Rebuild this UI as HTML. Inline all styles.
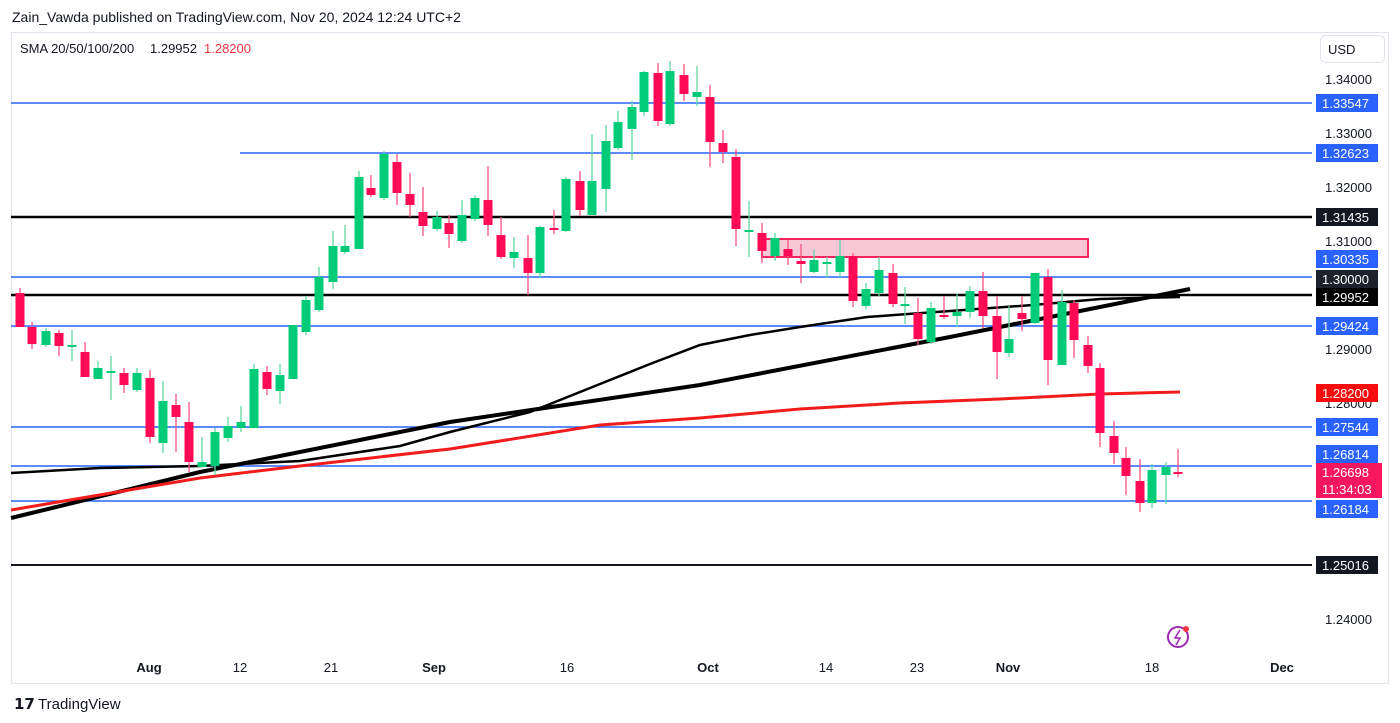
<!DOCTYPE html>
<html><head><meta charset="utf-8"><style>
body{margin:0;width:1400px;height:723px;background:#fff;font-family:"Liberation Sans",sans-serif;overflow:hidden;position:relative}
.t{position:absolute;font-size:13px;color:#131722}
</style></head><body>
<div class="t" style="left:12px;top:9px;font-size:14px">Zain_Vawda published on TradingView.com, Nov 20, 2024 12:24 UTC+2</div>
<svg width="1400" height="723" style="position:absolute;left:0;top:0" id="s" font-family="Liberation Sans, sans-serif">
<rect x="11.5" y="32.5" width="1377" height="651" fill="none" stroke="#e0e3eb"/>
<text x="20" y="53" font-size="13" fill="#131722">SMA 20/50/100/200</text>
<text x="150" y="53" font-size="13" fill="#131722">1.29952</text>
<text x="204" y="53" font-size="13" fill="#f23645">1.28200</text>
<rect x="1320.5" y="35.5" width="64" height="27" rx="5" fill="#fff" stroke="#e0e3eb"/>
<text x="1328" y="54" font-size="13" fill="#131722">USD</text>
<g stroke-width="1.5">
<line x1="11" y1="103" x2="1312" y2="103" stroke="#2962ff"/>
<line x1="240" y1="153" x2="1312" y2="153" stroke="#2962ff"/>
<line x1="11" y1="277" x2="1312" y2="277" stroke="#2962ff"/>
<line x1="11" y1="326" x2="1312" y2="326" stroke="#2962ff"/>
<line x1="11" y1="427" x2="1312" y2="427" stroke="#2962ff"/>
<line x1="11" y1="466" x2="1312" y2="466" stroke="#2962ff"/>
<line x1="11" y1="501" x2="1312" y2="501" stroke="#2962ff"/>
</g>
<line x1="11" y1="217" x2="1312" y2="217" stroke="#000" stroke-width="2.5"/>
<line x1="11" y1="295" x2="1312" y2="295" stroke="#000" stroke-width="2.5"/>
<line x1="11" y1="565" x2="1312" y2="565" stroke="#131722" stroke-width="2"/>
<rect x="762" y="239" width="326" height="18" fill="#f8c7d6" stroke="#f7245f" stroke-width="2"/>
<polyline fill="none" stroke="#000" stroke-width="2.5" points="11,473 100,468 200,466 300,461 400,446 450,432 530,412 600,384 650,364 700,345 750,335 800,327 867,317 950,311 1033,305 1100,299 1180,297"/>
<polyline fill="none" stroke="#000" stroke-width="4" points="11,518 200,472 450,422 700,385 950,337 1190,289"/>
<polyline fill="none" stroke="#f21c1c" stroke-width="3" points="11,510 200,478 300,466 450,449 600,425 700,418 800,409 900,403 1000,399 1100,394 1180,392"/>
<g id="c"></g>
<g font-size="13" fill="#131722">
<text x="1325" y="84">1.34000</text><text x="1325" y="138">1.33000</text><text x="1325" y="192">1.32000</text>
<text x="1325" y="246">1.31000</text><text x="1325" y="354">1.29000</text><text x="1325" y="408">1.28000</text>
<text x="1325" y="624">1.24000</text>
</g>
<g font-size="13" fill="#fff">
<rect x="1316" y="94" width="62" height="18" fill="#2962ff"/><text x="1322" y="108">1.33547</text>
<rect x="1316" y="144" width="62" height="18" fill="#2962ff"/><text x="1322" y="158">1.32623</text>
<rect x="1316" y="208" width="62" height="18" fill="#131722"/><text x="1322" y="222">1.31435</text>
<rect x="1316" y="250" width="62" height="18" fill="#2962ff"/><text x="1322" y="264">1.30335</text>
<rect x="1316" y="270" width="62" height="18" fill="#1e222d"/><text x="1322" y="284">1.30000</text>
<rect x="1316" y="288" width="62" height="18" fill="#000"/><text x="1322" y="302">1.29952</text>
<rect x="1316" y="317" width="62" height="18" fill="#2962ff"/><text x="1322" y="331">1.29424</text>
<rect x="1316" y="384" width="62" height="18" fill="#f70d0d"/><text x="1322" y="398">1.28200</text>
<rect x="1316" y="418" width="62" height="18" fill="#2962ff"/><text x="1322" y="432">1.27544</text>
<rect x="1316" y="445" width="62" height="18" fill="#2962ff"/><text x="1322" y="459">1.26814</text>
<rect x="1316" y="463" width="66" height="35" fill="#f7175f"/><text x="1322" y="477">1.26698</text><text x="1322" y="494">11:34:03</text>
<rect x="1316" y="500" width="62" height="18" fill="#2962ff"/><text x="1322" y="514">1.26184</text>
<rect x="1316" y="556" width="62" height="18" fill="#131722"/><text x="1322" y="570">1.25016</text>
</g>
<g font-size="13" fill="#131722" text-anchor="middle">
<text x="149" y="672" font-weight="bold">Aug</text><text x="240" y="672">12</text><text x="331" y="672">21</text>
<text x="434" y="672" font-weight="bold">Sep</text><text x="567" y="672">16</text><text x="708" y="672" font-weight="bold">Oct</text>
<text x="826" y="672">14</text><text x="917" y="672">23</text><text x="1008" y="672" font-weight="bold">Nov</text>
<text x="1152" y="672">18</text><text x="1282" y="672" font-weight="bold">Dec</text>
</g>
<circle cx="1178" cy="637" r="10" fill="none" stroke="#9c27b0" stroke-width="2"/>
<path d="M1180 630 l-5 8 h5 l-4 7" fill="none" stroke="#9c27b0" stroke-width="1.5"/>
<circle cx="1186" cy="629" r="3" fill="#f23645"/>
<text x="14" y="709" font-size="15" font-weight="bold" fill="#131722">𝟭𝟳</text>
<text x="38" y="709" font-size="15" fill="#131722">TradingView</text>
</svg>
<script>
var d=[[20,293,327,288,327],[32,327,344,322,349],[46,345,331,328,347],[59,333,346,330,356],[72,346,345,330,361],[85,352,377,342,377],[98,379,368,361,379],[111,372,371,356,400],[124,373,385,368,393],[137,390,373,368,392],[150,378,437,370,443],[163,443,401,381,453],[176,405,417,394,452],[189,422,462,402,472],[202,467,462,437,467],[215,466,432,428,475],[228,438,426,417,442],[241,428,422,406,432],[254,428,369,364,428],[267,372,389,366,395],[280,391,375,364,404],[293,379,325,325,379],[306,332,300,296,335],[319,310,277,267,312],[333,282,246,231,289],[345,252,246,225,254],[359,249,177,171,249],[371,188,195,175,197],[384,198,154,151,200],[397,162,193,154,205],[410,194,205,173,217],[423,212,226,187,236],[437,229,217,211,231],[449,223,234,215,248],[462,241,215,200,243],[475,219,198,195,221],[488,200,225,166,236],[501,235,257,217,259],[514,258,252,237,268],[528,258,273,235,295],[540,273,227,226,278],[554,228,229,210,234],[566,231,179,177,232],[580,181,210,171,216],[592,215,181,134,215],[606,189,141,125,212],[618,148,122,111,150],[632,129,107,101,160],[644,112,72,71,116],[658,73,121,63,126],[670,124,71,61,126],[684,75,94,64,101],[697,97,92,66,106],[710,97,142,85,167],[723,143,152,130,163],[736,157,229,149,246],[749,231,230,201,257],[762,233,251,223,263],[775,256,238,233,261],[788,249,256,240,265],[801,261,264,244,283],[814,272,260,250,273],[827,263,262,257,278],[840,272,256,240,277],[853,256,301,253,307],[866,306,289,283,309],[879,293,270,257,296],[893,273,304,264,307],[905,305,304,287,324],[918,313,339,298,345],[931,342,308,302,344],[944,315,317,296,319],[957,316,312,294,327],[970,312,291,286,318],[983,291,316,272,328],[997,316,352,296,379],[1009,353,339,306,357],[1022,313,319,296,331],[1035,323,273,273,324],[1048,277,360,269,385],[1062,365,302,290,365],[1074,303,340,300,358],[1088,345,366,336,373],[1100,368,433,363,447],[1114,436,453,421,464],[1126,458,476,447,495],[1140,481,503,459,512],[1152,503,470,464,508],[1166,475,467,462,504],[1178,472,474,449,477]];
var h='';d.forEach(function(c){var col=c[2]<c[1]?'#00cc77':'#ff0a54';var wc=c[2]<c[1]?'#5fd9a0':'#f7527e';var t=Math.min(c[1],c[2]),b=Math.max(c[1],c[2]);if(b-t<2){b=t+2}
h+='<line x1="'+c[0]+'" x2="'+c[0]+'" y1="'+c[3]+'" y2="'+c[4]+'" stroke="'+wc+'" stroke-width="1.3"/>';
h+='<rect x="'+(c[0]-4.5)+'" y="'+t+'" width="9" height="'+(b-t)+'" fill="'+col+'"/>';});
document.getElementById('c').innerHTML=h;
</script>
</body></html>
